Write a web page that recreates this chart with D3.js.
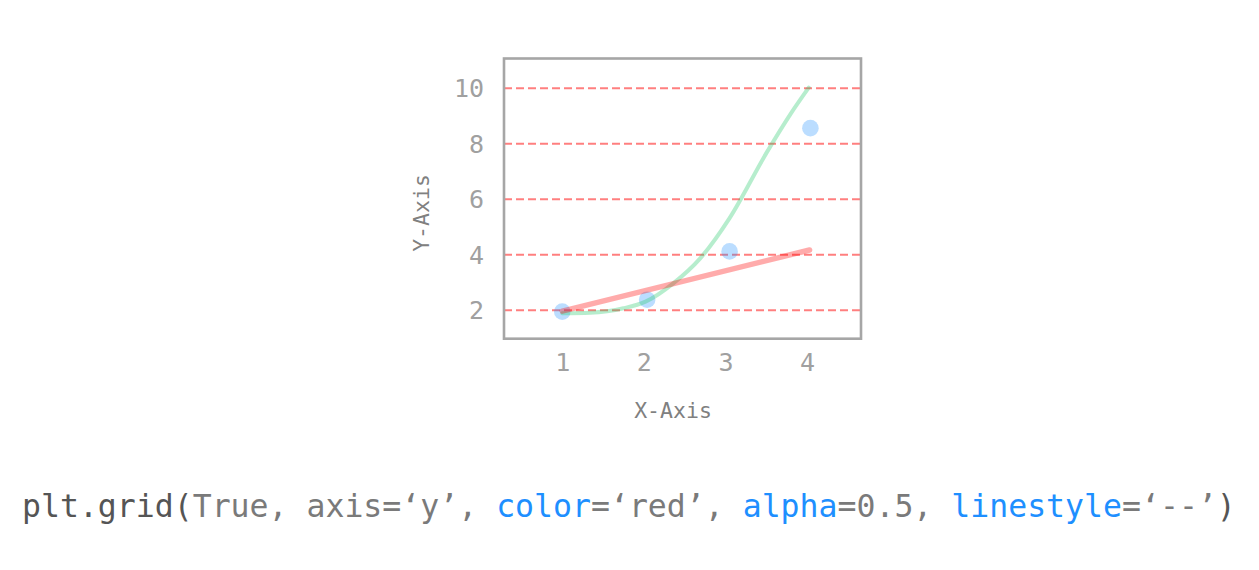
<!DOCTYPE html>
<html><head><meta charset="utf-8">
<script src="https://cdn.jsdelivr.net/npm/d3@7"></script>
<style>
html,body{margin:0;padding:0;background:#fff;}
svg{display:block;}
text{font-family:"DejaVu Sans Mono",monospace;}
</style></head>
<body>
<svg id="chart" width="1259" height="570"></svg>
<script>
// ---- data ----
const xTicks = [1, 2, 3, 4];
const yTicks = [2, 4, 6, 8, 10];
const scatterX = [1.0, 2.04, 3.05, 4.04];
const scatterY = [1.93, 2.36, 4.1, 8.54];
const redX = [1.0, 4.03];
const redY = [1.95, 4.15];
const greenX = [1.0, 1.34, 1.75, 2.02, 2.36, 2.69, 3.05, 3.5, 3.79, 4.02];
const greenY = [1.87, 1.89, 2.05, 2.29, 2.95, 3.85, 5.3, 7.64, 9.02, 10.0];
const xLabel = "X-Axis";
const yLabel = "Y-Axis";
const codeParts = [
  {t: "plt.grid(", c: "#555555"},
  {t: "True, axis=\u2018y\u2019, ", c: "#7a7a7a"},
  {t: "color", c: "#1e8fff"},
  {t: "=\u2018red\u2019, ", c: "#7a7a7a"},
  {t: "alpha", c: "#1e8fff"},
  {t: "=0.5, ", c: "#7a7a7a"},
  {t: "linestyle", c: "#1e8fff"},
  {t: "=\u2018--\u2019", c: "#7a7a7a"},
  {t: ")", c: "#555555"}
];

// ---- layout ----
const L = 504, T = 58.5, W = 357, H = 280.2;
const svg = d3.select("#chart");
const x = d3.scaleLinear().domain([0.286, 4.66]).range([L, L + W]);
const y = d3.scaleLinear().domain([0.955, 11.05]).range([T + H, T]);

// grid (y only, red dashed, alpha 0.5)
svg.append("g")
  .attr("transform", `translate(${L},0)`)
  .call(d3.axisLeft(y).tickValues(yTicks).tickSize(-W).tickFormat(""))
  .call(g => g.select(".domain").remove())
  .selectAll("line")
  .attr("stroke", "red").attr("stroke-opacity", 0.5)
  .attr("stroke-width", 2).attr("stroke-dasharray", "8,4");

// scatter
svg.append("g").selectAll("circle")
  .data(scatterX.map((d, i) => [d, scatterY[i]]))
  .join("circle")
  .attr("cx", d => x(d[0])).attr("cy", d => y(d[1])).attr("r", 8.3)
  .attr("fill", "#1e8fff").attr("fill-opacity", 0.3);

// green curve
svg.append("path")
  .datum(greenX.map((d, i) => [d, greenY[i]]))
  .attr("d", d3.line().x(d => x(d[0])).y(d => y(d[1])).curve(d3.curveMonotoneX))
  .attr("fill", "none").attr("stroke", "#2ecc71").attr("stroke-opacity", 0.35)
  .attr("stroke-width", 4).attr("stroke-linecap", "round");

// red line
svg.append("path")
  .datum(redX.map((d, i) => [d, redY[i]]))
  .attr("d", d3.line().x(d => x(d[0])).y(d => y(d[1])))
  .attr("fill", "none").attr("stroke", "red").attr("stroke-opacity", 0.33)
  .attr("stroke-width", 5.5).attr("stroke-linecap", "round");

// frame
svg.append("rect")
  .attr("x", L).attr("y", T).attr("width", W).attr("height", H)
  .attr("fill", "none").attr("stroke", "#a6a6a6").attr("stroke-width", 2.6);

// y tick labels
const yAx = svg.append("g")
  .attr("transform", `translate(${L - 20},0)`)
  .call(d3.axisLeft(y).tickValues(yTicks).tickSize(0).tickPadding(0).tickFormat(d3.format("d")));
yAx.select(".domain").remove();
yAx.selectAll("text").attr("font-size", 25).attr("fill", "#a0a0a0")
  .attr("font-family", "DejaVu Sans Mono").attr("dy", "0.36em");

// x tick labels
const xAx = svg.append("g")
  .attr("transform", `translate(0,${T + H + 15})`)
  .call(d3.axisBottom(x).tickValues(xTicks).tickSize(0).tickPadding(0).tickFormat(d3.format("d")));
xAx.select(".domain").remove();
xAx.selectAll("text").attr("font-size", 25).attr("fill", "#a0a0a0")
  .attr("font-family", "DejaVu Sans Mono");

// axis labels
svg.append("text").attr("x", 673).attr("y", 418).attr("text-anchor", "middle")
  .attr("font-size", 21.5).attr("fill", "#808080").text(xLabel);
svg.append("text").attr("transform", "translate(429,213) rotate(-90)")
  .attr("text-anchor", "middle").attr("font-size", 21.5).attr("fill", "#808080").text(yLabel);

// code caption
const cap = svg.append("text").attr("x", 22).attr("y", 517).attr("font-size", 31.5);
cap.selectAll("tspan").data(codeParts).join("tspan")
  .attr("fill", d => d.c).text(d => d.t);
</script>
</body></html>
